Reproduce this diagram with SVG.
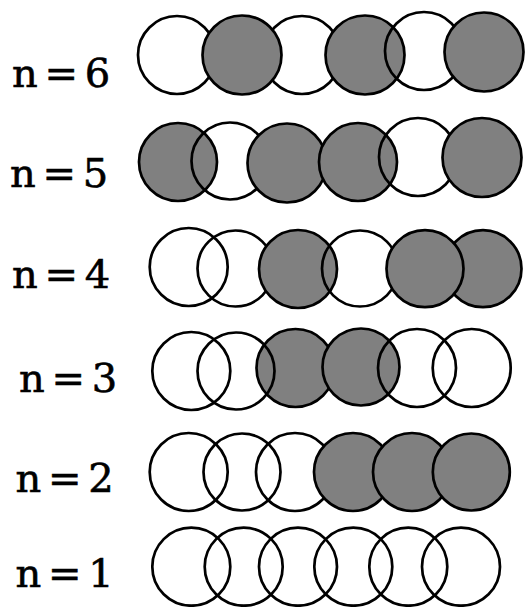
<svg xmlns="http://www.w3.org/2000/svg" width="527" height="607" viewBox="0 0 527 607">
<style>
.lbl{font-family:"DejaVu Serif","Liberation Serif",serif;font-size:40px;fill:#000;stroke:#000;stroke-width:0.6px;word-spacing:-6px}
.w{fill:none;stroke:#000;stroke-width:2.7}
.g{fill:#808080;stroke:#000;stroke-width:2.7}
</style>
<rect width="527" height="607" fill="#fff"/>
<g id="row6">
<text class="lbl" x="12" y="87">n = 6</text>
<circle class="w" cx="177" cy="55" r="39"/>
<circle class="w" cx="302" cy="55" r="39"/>
<circle class="g" cx="242" cy="55" r="39.5"/>
<circle class="g" cx="365" cy="55" r="39.5"/>
<circle class="w" cx="424" cy="51" r="39"/>
<circle class="g" cx="484" cy="52" r="39.5"/>
</g>
<g id="row5">
<text class="lbl" x="10" y="187">n = 5</text>
<circle class="g" cx="178" cy="162" r="39"/>
<circle class="w" cx="230" cy="161" r="38.5"/>
<circle class="g" cx="287" cy="163" r="39.5"/>
<circle class="g" cx="358" cy="162" r="39"/>
<circle class="w" cx="418" cy="157" r="39"/>
<circle class="g" cx="482" cy="157.5" r="39.5"/>
</g>
<g id="row4">
<text class="lbl" x="12" y="288">n = 4</text>
<circle class="w" cx="188.7" cy="267" r="39"/>
<circle class="w" cx="235.5" cy="268.5" r="38"/>
<circle class="g" cx="298" cy="269" r="39"/>
<circle class="w" cx="360" cy="268.5" r="38"/>
<circle class="g" cx="483" cy="268.7" r="38.5"/>
<circle class="g" cx="425" cy="268.7" r="38.5"/>
</g>
<g id="row3">
<text class="lbl" x="19" y="391.5">n = 3</text>
<circle class="g" cx="295.5" cy="368" r="39"/>
<circle class="g" cx="361" cy="367" r="38.5"/>
<circle class="w" cx="191.3" cy="371" r="39"/>
<circle class="w" cx="236" cy="371" r="38.5"/>
<circle class="w" cx="417" cy="368" r="39"/>
<circle class="w" cx="471.7" cy="368" r="39"/>
</g>
<g id="row2">
<text class="lbl" x="15.5" y="491.5">n = 2</text>
<circle class="w" cx="188.7" cy="472" r="39"/>
<circle class="w" cx="242" cy="472" r="38.5"/>
<circle class="w" cx="295" cy="472" r="39"/>
<circle class="g" cx="353" cy="472" r="39"/>
<circle class="g" cx="412" cy="472" r="39"/>
<circle class="g" cx="471.3" cy="472" r="38.5"/>
</g>
<g id="row1">
<text class="lbl" x="15.5" y="586.5">n = 1</text>
<circle class="w" cx="191.3" cy="566.7" r="39"/>
<circle class="w" cx="243.7" cy="566.7" r="39"/>
<circle class="w" cx="298" cy="566.7" r="39"/>
<circle class="w" cx="353.3" cy="566.7" r="39"/>
<circle class="w" cx="408.3" cy="566.7" r="39"/>
<circle class="w" cx="461" cy="566.7" r="39"/>
</g>
<g id="connectors"/>
</svg>
